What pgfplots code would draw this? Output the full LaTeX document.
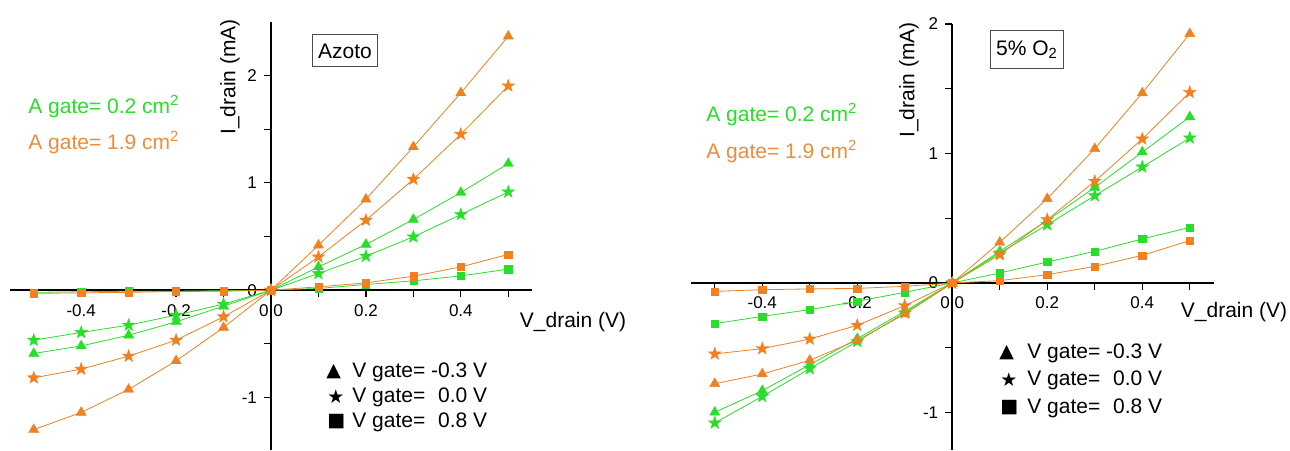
\documentclass[border=0pt]{standalone}
\usepackage{pgfplots}
\pgfplotsset{compat=1.18}
\usepackage{fontspec}
\setmainfont{Liberation Sans}
\newfontfamily\symfont{DejaVu Sans}
\definecolor{cgreen}{RGB}{40,222,40}
\definecolor{corange}{RGB}{240,128,32}
\definecolor{torange}{RGB}{236,140,60}

\pgfdeclareplotmark{fstar}{%
  \pgfpathmoveto{\pgfpointpolar{90}{\pgfplotmarksize}}%
  \pgfpathlineto{\pgfpointpolar{126}{0.4\pgfplotmarksize}}%
  \pgfpathlineto{\pgfpointpolar{162}{\pgfplotmarksize}}%
  \pgfpathlineto{\pgfpointpolar{198}{0.4\pgfplotmarksize}}%
  \pgfpathlineto{\pgfpointpolar{234}{\pgfplotmarksize}}%
  \pgfpathlineto{\pgfpointpolar{270}{0.4\pgfplotmarksize}}%
  \pgfpathlineto{\pgfpointpolar{306}{\pgfplotmarksize}}%
  \pgfpathlineto{\pgfpointpolar{342}{0.4\pgfplotmarksize}}%
  \pgfpathlineto{\pgfpointpolar{18}{\pgfplotmarksize}}%
  \pgfpathlineto{\pgfpointpolar{54}{0.4\pgfplotmarksize}}%
  \pgfpathclose\pgfusepathqfillstroke}

\pgfplotsset{
  myaxis/.style={
    scale only axis, axis lines=middle, axis line style={-, line width=0.8pt, black},
    xmin=-0.55, xmax=0.55,
    xtick={-0.4,-0.2,0,0.2,0.4}, minor xtick={-0.5,-0.3,-0.1,0.1,0.3,0.5},
    ytick={-1,0,1,2}, minor ytick={-1.5,-0.5,0.5,1.5},
    tick align=outside, major tick length=3.5pt, minor tick length=3.5pt,
    every tick/.style={black, line width=0.6pt},
    hide obscured x ticks=false, hide obscured y ticks=false,
    /pgf/number format/assume math mode=true,
    xticklabel style={/pgf/number format/fixed, /pgf/number format/fixed zerofill, /pgf/number format/precision=1},
    tick label style={font=\fontsize{8.5}{10}\selectfont},
    clip=false,
  },
  gt/.style={cgreen, line width=0.4pt, mark=triangle*, mark size=2.9pt, mark options={solid, fill=cgreen, line width=0.2pt}},
  gs/.style={cgreen, line width=0.4pt, mark=fstar, mark size=3.3pt, mark options={solid, fill=cgreen, line width=0.2pt}},
  gq/.style={cgreen, line width=0.4pt, mark=square*, mark size=1.8pt, mark options={solid, fill=cgreen, line width=0.2pt}},
  ot/.style={corange, line width=0.4pt, mark=triangle*, mark size=2.9pt, mark options={solid, fill=corange, line width=0.2pt}},
  os/.style={corange, line width=0.4pt, mark=fstar, mark size=3.3pt, mark options={solid, fill=corange, line width=0.2pt}},
  oq/.style={corange, line width=0.4pt, mark=square*, mark size=1.8pt, mark options={solid, fill=corange, line width=0.2pt}},
}

\newcommand{\lbl}{\fontsize{10.5}{12}\selectfont}

\begin{document}
\begin{tikzpicture}
\useasboundingbox (0,0) rectangle (645pt,225pt);

% ---------------- Left panel: Azoto ----------------
\begin{axis}[myaxis, at={(5pt,0pt)}, anchor=south west,
  width=261pt, height=214pt, ymin=-1.49, ymax=2.5]
\addplot[gt] coordinates {(-0.5,-0.59) (-0.4,-0.52) (-0.3,-0.42) (-0.2,-0.295) (-0.1,-0.149) (0,0) (0.1,0.217) (0.2,0.426) (0.3,0.659) (0.4,0.91) (0.5,1.18)};
\addplot[gs] coordinates {(-0.5,-0.466) (-0.4,-0.394) (-0.3,-0.326) (-0.2,-0.233) (-0.1,-0.13) (0,0) (0.1,0.155) (0.2,0.317) (0.3,0.497) (0.4,0.705) (0.5,0.916)};
\addplot[gq] coordinates {(-0.5,-0.02) (-0.4,-0.015) (-0.3,-0.01) (-0.2,-0.01) (-0.1,-0.005) (0,0) (0.1,0.016) (0.2,0.053) (0.3,0.087) (0.4,0.133) (0.5,0.196)};
\addplot[ot] coordinates {(-0.5,-1.30) (-0.4,-1.14) (-0.3,-0.925) (-0.2,-0.659) (-0.1,-0.348) (0,0) (0.1,0.419) (0.2,0.848) (0.3,1.336) (0.4,1.839) (0.5,2.367)};
\addplot[os] coordinates {(-0.5,-0.817) (-0.4,-0.736) (-0.3,-0.615) (-0.2,-0.466) (-0.1,-0.248) (0,0) (0.1,0.31) (0.2,0.652) (0.3,1.034) (0.4,1.454) (0.5,1.904)};
\addplot[oq] coordinates {(-0.5,-0.03) (-0.4,-0.025) (-0.3,-0.02) (-0.2,-0.012) (-0.1,-0.01) (0,0) (0.1,0.031) (0.2,0.068) (0.3,0.13) (0.4,0.217) (0.5,0.333)};
\end{axis}

% ---------------- Right panel: 5% O2 ----------------
\begin{axis}[myaxis, at={(345.5pt,0pt)}, anchor=south west,
  width=261.25pt, height=213pt, ymin=-1.29, ymax=2]
\addplot[gt] coordinates {(-0.5,-0.999) (-0.4,-0.832) (-0.3,-0.631) (-0.2,-0.43) (-0.1,-0.219) (0,0) (0.1,0.244) (0.2,0.483) (0.3,0.738) (0.4,1.011) (0.5,1.282)};
\addplot[gs] coordinates {(-0.5,-1.081) (-0.4,-0.876) (-0.3,-0.662) (-0.2,-0.451) (-0.1,-0.232) (0,0) (0.1,0.232) (0.2,0.45) (0.3,0.674) (0.4,0.896) (0.5,1.12)};
\addplot[gq] coordinates {(-0.5,-0.314) (-0.4,-0.258) (-0.3,-0.206) (-0.2,-0.142) (-0.1,-0.072) (0,0) (0.1,0.077) (0.2,0.162) (0.3,0.244) (0.4,0.34) (0.5,0.429)};
\addplot[ot] coordinates {(-0.5,-0.778) (-0.4,-0.703) (-0.3,-0.597) (-0.2,-0.443) (-0.1,-0.24) (0,0) (0.1,0.314) (0.2,0.651) (0.3,1.037) (0.4,1.467) (0.5,1.925)};
\addplot[os] coordinates {(-0.5,-0.548) (-0.4,-0.507) (-0.3,-0.433) (-0.2,-0.327) (-0.1,-0.175) (0,0) (0.1,0.219) (0.2,0.489) (0.3,0.785) (0.4,1.112) (0.5,1.472)};
\addplot[oq] coordinates {(-0.5,-0.065) (-0.4,-0.052) (-0.3,-0.046) (-0.2,-0.042) (-0.1,-0.026) (0,0) (0.1,0.018) (0.2,0.064) (0.3,0.128) (0.4,0.213) (0.5,0.327)};
\end{axis}

% ---------------- Texts, left ----------------
\node[rotate=90, font=\lbl] at (115pt,186.5pt) {I\_drain (mA)};
\node[draw=black!70, line width=0.5pt, font=\lbl, inner sep=3pt, minimum height=16pt, minimum width=32pt] at (172.5pt,199.5pt) {Azoto};
\node[anchor=west, font=\lbl, text=cgreen, inner sep=0pt] at (14pt,171.5pt) {A gate= 0.2 cm\textsuperscript{2}};
\node[anchor=west, font=\lbl, text=torange, inner sep=0pt] at (14pt,153.5pt) {A gate= 1.9 cm\textsuperscript{2}};
\node[font=\lbl] at (286.5pt,64pt) {V\_drain (V)};
\node[anchor=west, inner sep=0pt, font=\symfont\fontsize{9.5}{11}\selectfont] at (163pt,39pt) {▲};
\node[anchor=west, inner sep=0pt, font=\symfont\fontsize{9.5}{11}\selectfont] at (163.5pt,26.5pt) {★};
\node[anchor=west, inner sep=0pt, font=\symfont\fontsize{9.5}{11}\selectfont] at (163.5pt,14pt) {■};
\node[anchor=west, inner sep=0pt, font=\lbl] at (176pt,39pt) {V gate= -0.3 V};
\node[anchor=west, inner sep=0pt, font=\lbl] at (176pt,26.5pt) {V gate= \phantom{-}0.0 V};
\node[anchor=west, inner sep=0pt, font=\lbl] at (176pt,14pt) {V gate= \phantom{-}0.8 V};

% ---------------- Texts, right ----------------
\node[rotate=90, font=\lbl] at (454.5pt,185pt) {I\_drain (mA)};
\node[draw=black!70, line width=0.5pt, font=\lbl, inner sep=3pt, minimum height=19pt, minimum width=35.5pt] at (513.5pt,200pt) {5\% O\textsubscript{2}};
\node[anchor=west, font=\lbl, text=cgreen, inner sep=0pt] at (353pt,167.5pt) {A gate= 0.2 cm\textsuperscript{2}};
\node[anchor=west, font=\lbl, text=torange, inner sep=0pt] at (353pt,149pt) {A gate= 1.9 cm\textsuperscript{2}};
\node[font=\lbl] at (617pt,69pt) {V\_drain (V)};
\node[anchor=west, inner sep=0pt, font=\symfont\fontsize{9.5}{11}\selectfont] at (499.5pt,48.5pt) {▲};
\node[anchor=west, inner sep=0pt, font=\symfont\fontsize{9.5}{11}\selectfont] at (500pt,35pt) {★};
\node[anchor=west, inner sep=0pt, font=\symfont\fontsize{9.5}{11}\selectfont] at (500pt,21pt) {■};
\node[anchor=west, inner sep=0pt, font=\lbl] at (513.5pt,48.5pt) {V gate= -0.3 V};
\node[anchor=west, inner sep=0pt, font=\lbl] at (513.5pt,35pt) {V gate= \phantom{-}0.0 V};
\node[anchor=west, inner sep=0pt, font=\lbl] at (513.5pt,21pt) {V gate= \phantom{-}0.8 V};
\end{tikzpicture}
\end{document}
